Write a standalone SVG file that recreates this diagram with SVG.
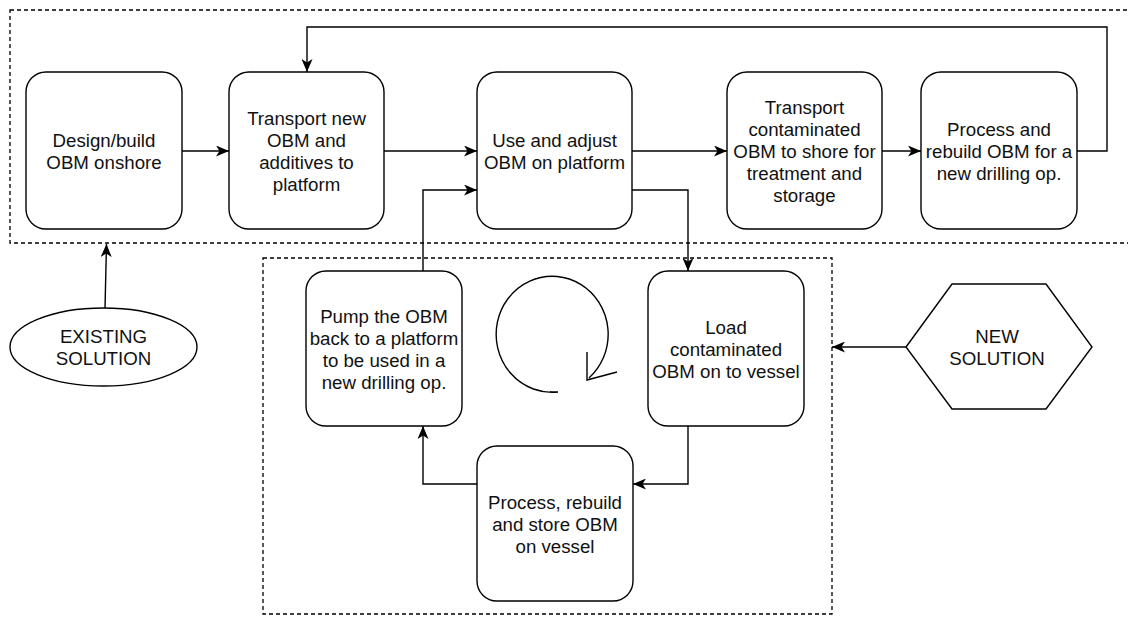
<svg xmlns="http://www.w3.org/2000/svg" width="1128" height="617" viewBox="0 0 1128 617">
  <style>
    .box { fill: #ffffff; stroke: #000000; stroke-width: 1.4; }
    .frame { fill: none; stroke: #000000; stroke-width: 1.3; stroke-dasharray: 4 3; }
    .edge { fill: none; stroke: #000000; stroke-width: 1.4; marker-end: url(#arrow); }
    .plain { fill: none; stroke: #000000; stroke-width: 1.4; }
    text { font-family: "Liberation Sans", Arial, Helvetica, sans-serif; font-size: 18.7px; fill: #111111; text-anchor: middle; }
  </style>
  <defs>
    <marker id="arrow" markerUnits="userSpaceOnUse" viewBox="0 0 13 11" refX="13" refY="5.5" markerWidth="13" markerHeight="11" orient="auto">
      <path d="M0,0 L13,5.5 L0,11 L3.5,5.5 Z" fill="#000000"/>
    </marker>
  </defs>
  <rect width="1128" height="617" fill="#ffffff"/>

  <!-- dashed group frames -->
  <g id="frames">
    <rect class="frame" x="10" y="10" width="1130" height="233"/>
    <rect class="frame" x="263" y="258" width="569" height="356"/>
  </g>

  <!-- connectors -->
  <g id="connectors">
    <path class="edge" d="M182 151 H229"/>
    <path class="edge" d="M384 151 H477"/>
    <path class="edge" d="M632 151 H727"/>
    <path class="edge" d="M882 151 H921"/>
    <path class="edge" d="M1077 151 H1107 V27 H307 V72"/>
    <path class="edge" d="M423 271 V190 H477"/>
    <path class="edge" d="M632 190 H688 V271"/>
    <path class="edge" d="M688 426 V484 H633"/>
    <path class="edge" d="M477 484 H423 V426"/>
    <path class="edge" d="M105 308 L106.5 244"/>
    <path class="edge" d="M906 347 H832"/>
  </g>

  <g id="design-build">
    <rect class="box" x="26" y="72" width="156" height="157" rx="20"/>
    <text x="104" y="147">Design/build</text>
    <text x="104" y="169">OBM onshore</text>
  </g>

  <g id="transport-new">
    <rect class="box" x="229" y="72" width="155" height="157" rx="20"/>
    <text x="306.5" y="125">Transport new</text>
    <text x="306.5" y="147">OBM and</text>
    <text x="306.5" y="169">additives to</text>
    <text x="306.5" y="191">platform</text>
  </g>

  <g id="use-adjust">
    <rect class="box" x="477" y="72" width="155" height="157" rx="20"/>
    <text x="554.5" y="147">Use and adjust</text>
    <text x="554.5" y="169">OBM on platform</text>
  </g>

  <g id="transport-contaminated">
    <rect class="box" x="727" y="72" width="155" height="157" rx="20"/>
    <text x="804.5" y="114">Transport</text>
    <text x="804.5" y="136">contaminated</text>
    <text x="804.5" y="158">OBM to shore for</text>
    <text x="804.5" y="180">treatment and</text>
    <text x="804.5" y="202">storage</text>
  </g>

  <g id="process-rebuild-shore">
    <rect class="box" x="921" y="72" width="156" height="157" rx="20"/>
    <text x="999" y="136">Process and</text>
    <text x="999" y="158">rebuild OBM for a</text>
    <text x="999" y="180">new drilling op.</text>
  </g>

  <g id="pump-back">
    <rect class="box" x="306" y="271" width="156" height="155" rx="20"/>
    <text x="384" y="323">Pump the OBM</text>
    <text x="384" y="345">back to a platform</text>
    <text x="384" y="367">to be used in a</text>
    <text x="384" y="389">new drilling op.</text>
  </g>

  <g id="load-vessel">
    <rect class="box" x="648" y="271" width="156" height="155" rx="20"/>
    <text x="726" y="334">Load</text>
    <text x="726" y="356">contaminated</text>
    <text x="726" y="378">OBM on to vessel</text>
  </g>

  <g id="process-vessel">
    <rect class="box" x="477" y="446" width="156" height="155" rx="20"/>
    <text x="555" y="509">Process, rebuild</text>
    <text x="555" y="531">and store OBM</text>
    <text x="555" y="553">on vessel</text>
  </g>

  <!-- cycle symbol inside the vessel loop -->
  <g id="cycle">
    <path class="plain" d="M550 392 H558 A56 58 0 1 1 589 378"/>
    <path class="plain" d="M587 352 L587 380 L617 372"/>
  </g>

  <g id="existing-solution">
    <ellipse class="box" cx="103.5" cy="347" rx="93.5" ry="39"/>
    <text x="103.5" y="343">EXISTING</text>
    <text x="103.5" y="365">SOLUTION</text>
  </g>

  <g id="new-solution">
    <polygon class="box" points="906,347 952,284 1046,284 1092,347 1046,409 952,409"/>
    <text x="997" y="343">NEW</text>
    <text x="997" y="365">SOLUTION</text>
  </g>
</svg>
